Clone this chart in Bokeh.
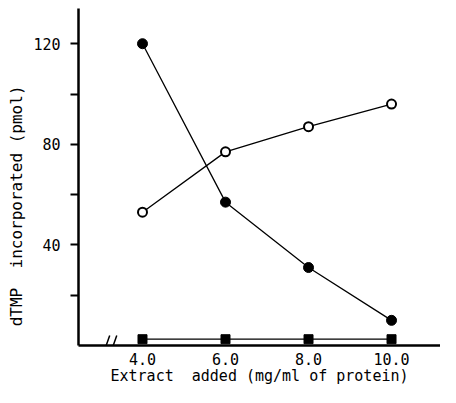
from bokeh.plotting import figure
from bokeh.models import Range1d, FixedTicker, Arrow
from bokeh.embed import file_html
from bokeh.resources import INLINE

x_vals = [4.0, 6.0, 8.0, 10.0]
filled = [120, 57, 31, 10]
open_ = [53, 77, 87, 96]
squares = [2.5, 2.5, 2.5, 2.5]
x_ticks = [4, 6, 8, 10]
x_tick_labels = {4: "4.0", 6: "6.0", 8: "8.0", 10: "10.0"}
y_ticks = [20, 40, 60, 80, 100, 120]
y_tick_labels = {20: "", 40: "40", 60: "", 80: "80", 100: "", 120: "120"}
break_x = [3.04, 3.21]

FONT = "DejaVu Sans Mono"

p = figure(width=440, height=387, output_backend="svg", toolbar_location=None,
           x_range=Range1d(2.458, 11.18), y_range=Range1d(0, 134),
           min_border_left=78, min_border_right=0, min_border_top=8, min_border_bottom=40)
p.outline_line_color = None
p.grid.grid_line_color = None
p.background_fill_color = "white"

for ax in (p.xaxis[0], p.yaxis[0]):
    ax.axis_line_width = 2.5
    ax.axis_line_color = "black"
    ax.major_label_text_font = FONT
    ax.major_label_text_font_size = "15px"
    ax.major_label_text_color = "black"
    ax.axis_label_text_font = FONT
    ax.axis_label_text_font_size = "15px"
    ax.axis_label_text_font_style = "normal"
    ax.axis_label_text_color = "black"
    ax.minor_tick_line_color = None

p.xaxis.ticker = FixedTicker(ticks=x_ticks)
p.xaxis.major_label_overrides = x_tick_labels
p.xaxis.major_tick_out = 0
p.xaxis.major_tick_in = 0
p.xaxis.major_label_standoff = 7
p.xaxis.axis_label = "Extract \u00a0added (mg/ml of protein)"
p.xaxis.axis_label_standoff = -1

p.yaxis.ticker = FixedTicker(ticks=y_ticks)
p.yaxis.major_label_overrides = y_tick_labels
p.yaxis.major_tick_out = 8
p.yaxis.major_tick_in = 0
p.yaxis.major_tick_line_width = 2
p.yaxis.major_label_standoff = 10
p.yaxis.axis_label = "dTMP \u00a0incorporated (pmol)" + "\u00a0" * 6
p.yaxis.axis_label_text_font_size = "16px"
p.yaxis.axis_label_standoff = 4

# axis break marks
for bx in break_x:
    p.add_layout(Arrow(end=None, x_start=bx, y_start=-4, x_end=bx + 0.17, y_end=4,
                       line_width=1.5, line_color="black"))

# data
p.line(x_vals, squares, line_color="black", line_width=1.3)
p.scatter(x_vals, squares, marker="square", size=9, fill_color="black", line_color="black")

p.line(x_vals, filled, line_color="black", line_width=1.3)
p.scatter(x_vals, filled, marker="circle", size=10, fill_color="black", line_color="black")

p.line(x_vals, open_, line_color="black", line_width=1.3)
p.scatter(x_vals, open_, marker="circle", size=9, fill_color="white", line_color="black", line_width=2)

open("out.html", "w").write(file_html(p, INLINE))
